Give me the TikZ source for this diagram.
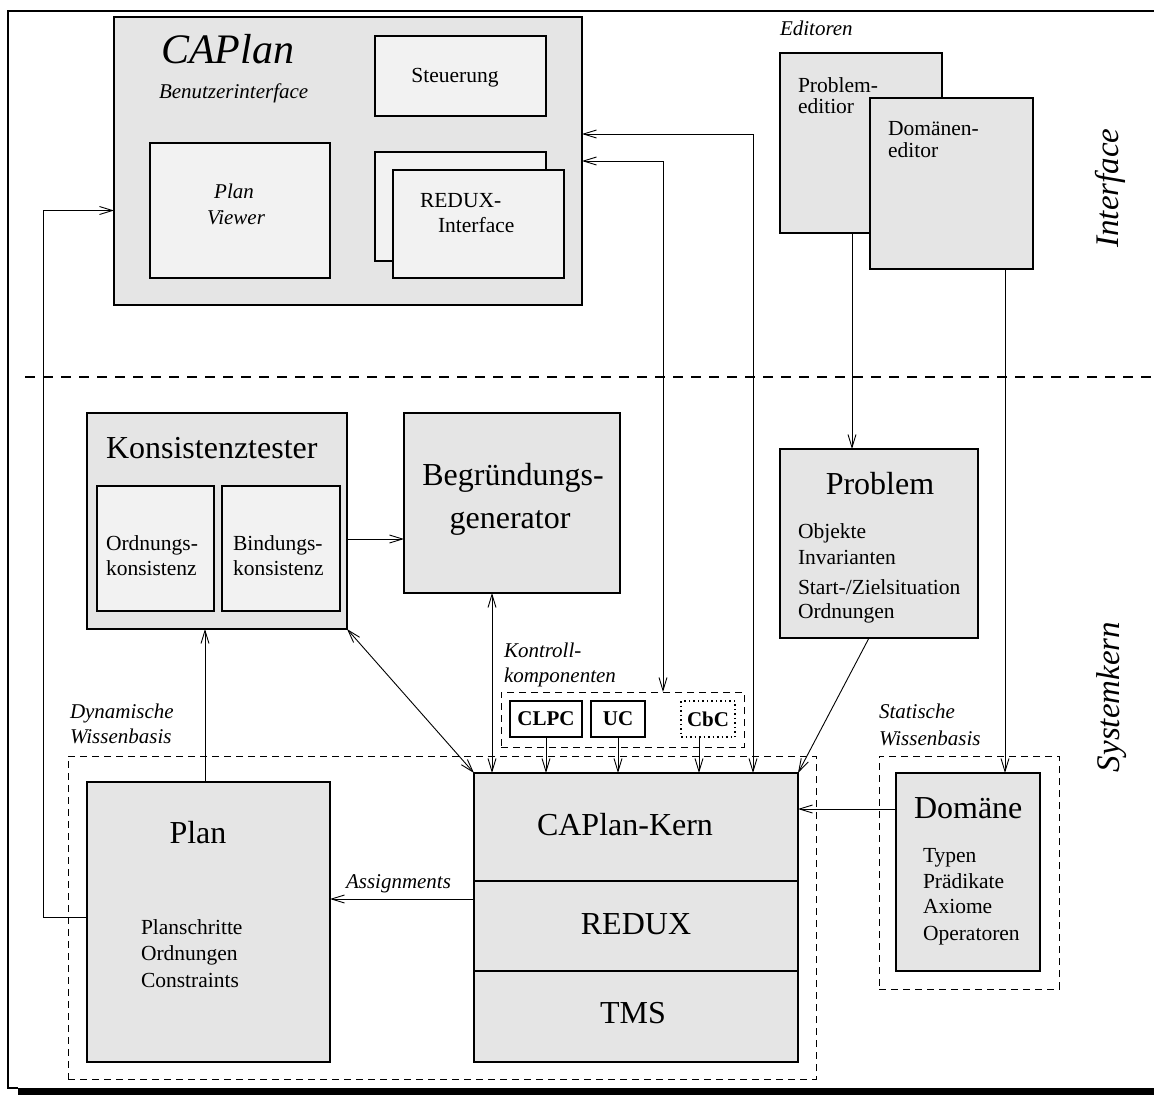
\documentclass[tikz,border=0pt]{standalone}
\usepackage{fontspec}
\setmainfont{Liberation Serif}
\usetikzlibrary{arrows.meta}

\definecolor{boxgray}{gray}{0.90}
\definecolor{boxlight}{gray}{0.95}

\begin{document}
\begin{tikzpicture}[x=1pt,y=-1pt,
  every node/.style={inner sep=0pt, outer sep=0pt},
  box/.style={draw=black, line width=1.2pt, fill=boxgray, anchor=north west},
  lightbox/.style={box, fill=boxlight},
  whitebox/.style={box, fill=white},
  dbox/.style={draw=black, line width=1pt, dash pattern=on 7pt off 5pt, anchor=north west},
  conn/.style={line width=0.9pt},
  arr/.style={conn, -{Straight Barb[length=13pt,width=8pt]}},
  darr/.style={conn, {Straight Barb[length=13pt,width=8pt]}-{Straight Barb[length=13pt,width=8pt]}},
  huge/.style={font=\fontsize{42}{48}\selectfont\itshape},
  side/.style={font=\fontsize{33}{38}\selectfont\itshape, rotate=90},
  big/.style={font=\fontsize{32}{38}\selectfont},
  mid/.style={font=\fontsize{21.5}{26}\selectfont},
  itl/.style={font=\fontsize{21}{25}\selectfont\itshape},
  bld/.style={font=\fontsize{21}{25}\selectfont\bfseries},
  lw/.style={anchor=base west},
  lc/.style={anchor=base},
]
\useasboundingbox (0,0) rectangle (1154,1095);

% page frame
\draw[line width=2.5pt, line join=miter] (1154,11) -- (8,11) -- (8,1088) -- (18,1088);
\fill (18,1088) rectangle (1154,1095);

% separator between interface and system kernel
\draw[line width=1.3pt, dash pattern=on 10pt off 8pt] (25,377) -- (1154,377);

% ---------- interface layer ----------
\node[box, minimum width=468, minimum height=288] (caplan) at (114,17) {};
\node[lightbox, minimum width=171, minimum height=80] (steu) at (375,36) {};
\node[lightbox, minimum width=180, minimum height=135] (viewer) at (150,143) {};
\node[lightbox, minimum width=171, minimum height=109] (rifback) at (375,152) {};
\node[lightbox, minimum width=171, minimum height=108] (rif) at (393,170) {};

\node[box, minimum width=162, minimum height=180] (pedit) at (780,53) {};
\node[box, minimum width=163, minimum height=171] (dedit) at (870,98) {};

% ---------- system kernel ----------
\node[box, minimum width=260, minimum height=216] (kons) at (87,413) {};
\node[lightbox, minimum width=117, minimum height=125] (ord) at (97,486) {};
\node[lightbox, minimum width=118, minimum height=125] (bind) at (222,486) {};
\node[box, minimum width=216, minimum height=180] (begr) at (404,413) {};
\node[box, minimum width=198, minimum height=189] (prob) at (780,449) {};

\node[dbox, minimum width=243, minimum height=55] (kontroll) at (501,692) {};
\node[whitebox, minimum width=72, minimum height=36] (clpc) at (510,701) {};
\node[whitebox, minimum width=54, minimum height=36] (uc) at (591,701) {};
\node[draw=black, line width=1.2pt, dash pattern=on 1.5pt off 3pt, anchor=north west,
      minimum width=54, minimum height=36] (cbc) at (681,701) {};

\node[dbox, minimum width=748, minimum height=323] (dyn) at (68,756) {};
\node[dbox, minimum width=180, minimum height=233] (stat) at (879,756) {};

\node[box, minimum width=243, minimum height=280] (plan) at (87,782) {};
\node[box, minimum width=324, minimum height=108] (kern) at (474,773) {};
\node[box, minimum width=324, minimum height=90] (redux) at (474,881) {};
\node[box, minimum width=324, minimum height=91] (tms) at (474,971) {};
\node[box, minimum width=144, minimum height=198] (dom) at (896,773) {};

% ---------- connectors ----------
\draw[arr] (plan.west |- 0,917) -- ++(-44,0) |- (caplan.west |- viewer.center);
\draw[arr] (plan.north -| 205,0) -- (kons.south -| 205,0);
\draw[arr] (kons.east |- 0,539) -- (begr.west |- 0,539);
\draw[darr] (kons.south east) -- (kern.north west);
\draw[darr] (begr.south -| 492,0) -- (kern.north -| 492,0);
\draw[arr] (clpc.south) -- (clpc.south |- kern.north);
\draw[arr] (uc.south) -- (uc.south |- kern.north);
\draw[arr] (cbc.south -| 699,0) -- (kern.north -| 699,0);
\draw[darr] (kontroll.north -| 663,0) |- (caplan.east |- 0,161);
\draw[darr] (kern.north -| 753,0) |- (caplan.east |- 0,134);
\draw[arr] (pedit.south -| 852,0) -- (prob.north -| 852,0);
\draw[arr] (dedit.south -| 1005,0) -- (dom.north -| 1005,0);
\draw[arr] (prob.south -| 869,0) -- (kern.north east);
\draw[arr] (dom.west |- 0,809) -- (kern.east |- 0,809);
\draw[arr] (redux.west |- 0,899) -- (plan.east |- 0,899);

% ---------- labels ----------
\node[huge, lw] (t-caplan) at (161,63) {CAPlan};
\node[itl, lw] (t-bui) at (159,98) {Benutzerinterface};
\node[mid, lc] (t-steu) at (455,82) {Steuerung};
\node[itl, lc] (t-pv1) at (234,198) {Plan};
\node[itl, lc] (t-pv2) at (236,224) {Viewer};
\node[mid, lw] (t-rif1) at (420,207) {REDUX-};
\node[mid, lw] (t-rif2) at (438,232) {Interface};

\node[itl, lw] (t-edit) at (780,35) {Editoren};
\node[mid, lw] (t-pe1) at (798,92) {Problem-};
\node[mid, lw] (t-pe2) at (798,113) {editior};
\node[mid, lw] (t-de1) at (888,135) {Domänen-};
\node[mid, lw] (t-de2) at (888,157) {editor};

\node[side] (t-interface) at (1110,188) {Interface};
\node[side] (t-systemkern) at (1112,697) {Systemkern};

\node[big, lw] (t-kons) at (106,458) {Konsistenztester};
\node[mid, lw] (t-ord1) at (106,550) {Ordnungs-};
\node[mid, lw] (t-ord2) at (106,575) {konsistenz};
\node[mid, lw] (t-bind1) at (233,550) {Bindungs-};
\node[mid, lw] (t-bind2) at (233,575) {konsistenz};
\node[big, lc] (t-begr1) at (513,485) {Begründungs-};
\node[big, lc] (t-begr2) at (510,528) {generator};

\node[big, lc] (t-prob) at (880,494) {Problem};
\node[mid, lw] (t-prob1) at (798,538) {Objekte};
\node[mid, lw] (t-prob2) at (798,564) {Invarianten};
\node[mid, lw] (t-prob3) at (798,594) {Start-/Zielsituation};
\node[mid, lw] (t-prob4) at (798,618) {Ordnungen};

\node[itl, lw] (t-kk1) at (504,657) {Kontroll-};
\node[itl, lw] (t-kk2) at (504,682) {komponenten};
\node[bld] (t-clpc) at (clpc.center) {CLPC};
\node[bld] (t-uc) at (uc.center) {UC};
\node[bld] (t-cbc) at (cbc.center) {CbC};

\node[itl, lw] (t-dyn1) at (70,718) {Dynamische};
\node[itl, lw] (t-dyn2) at (70,743) {Wissenbasis};
\node[itl, lw] (t-stat1) at (879,718) {Statische};
\node[itl, lw] (t-stat2) at (879,745) {Wissenbasis};

\node[big, lc] (t-plan) at (198,843) {Plan};
\node[mid, lw] (t-plan1) at (141,934) {Planschritte};
\node[mid, lw] (t-plan2) at (141,960) {Ordnungen};
\node[mid, lw] (t-plan3) at (141,987) {Constraints};

\node[big, lc] (t-kern) at (625,835) {CAPlan-Kern};
\node[big, lc] (t-redux) at (636,934) {REDUX};
\node[big, lc] (t-tms) at (633,1023) {TMS};
\node[itl, lw] (t-assign) at (346,888) {Assignments};

\node[big, lw] (t-dom) at (914,818) {Domäne};
\node[mid, lw] (t-dom1) at (923,862) {Typen};
\node[mid, lw] (t-dom2) at (923,888) {Prädikate};
\node[mid, lw] (t-dom3) at (923,913) {Axiome};
\node[mid, lw] (t-dom4) at (923,940) {Operatoren};
\end{tikzpicture}
\end{document}
